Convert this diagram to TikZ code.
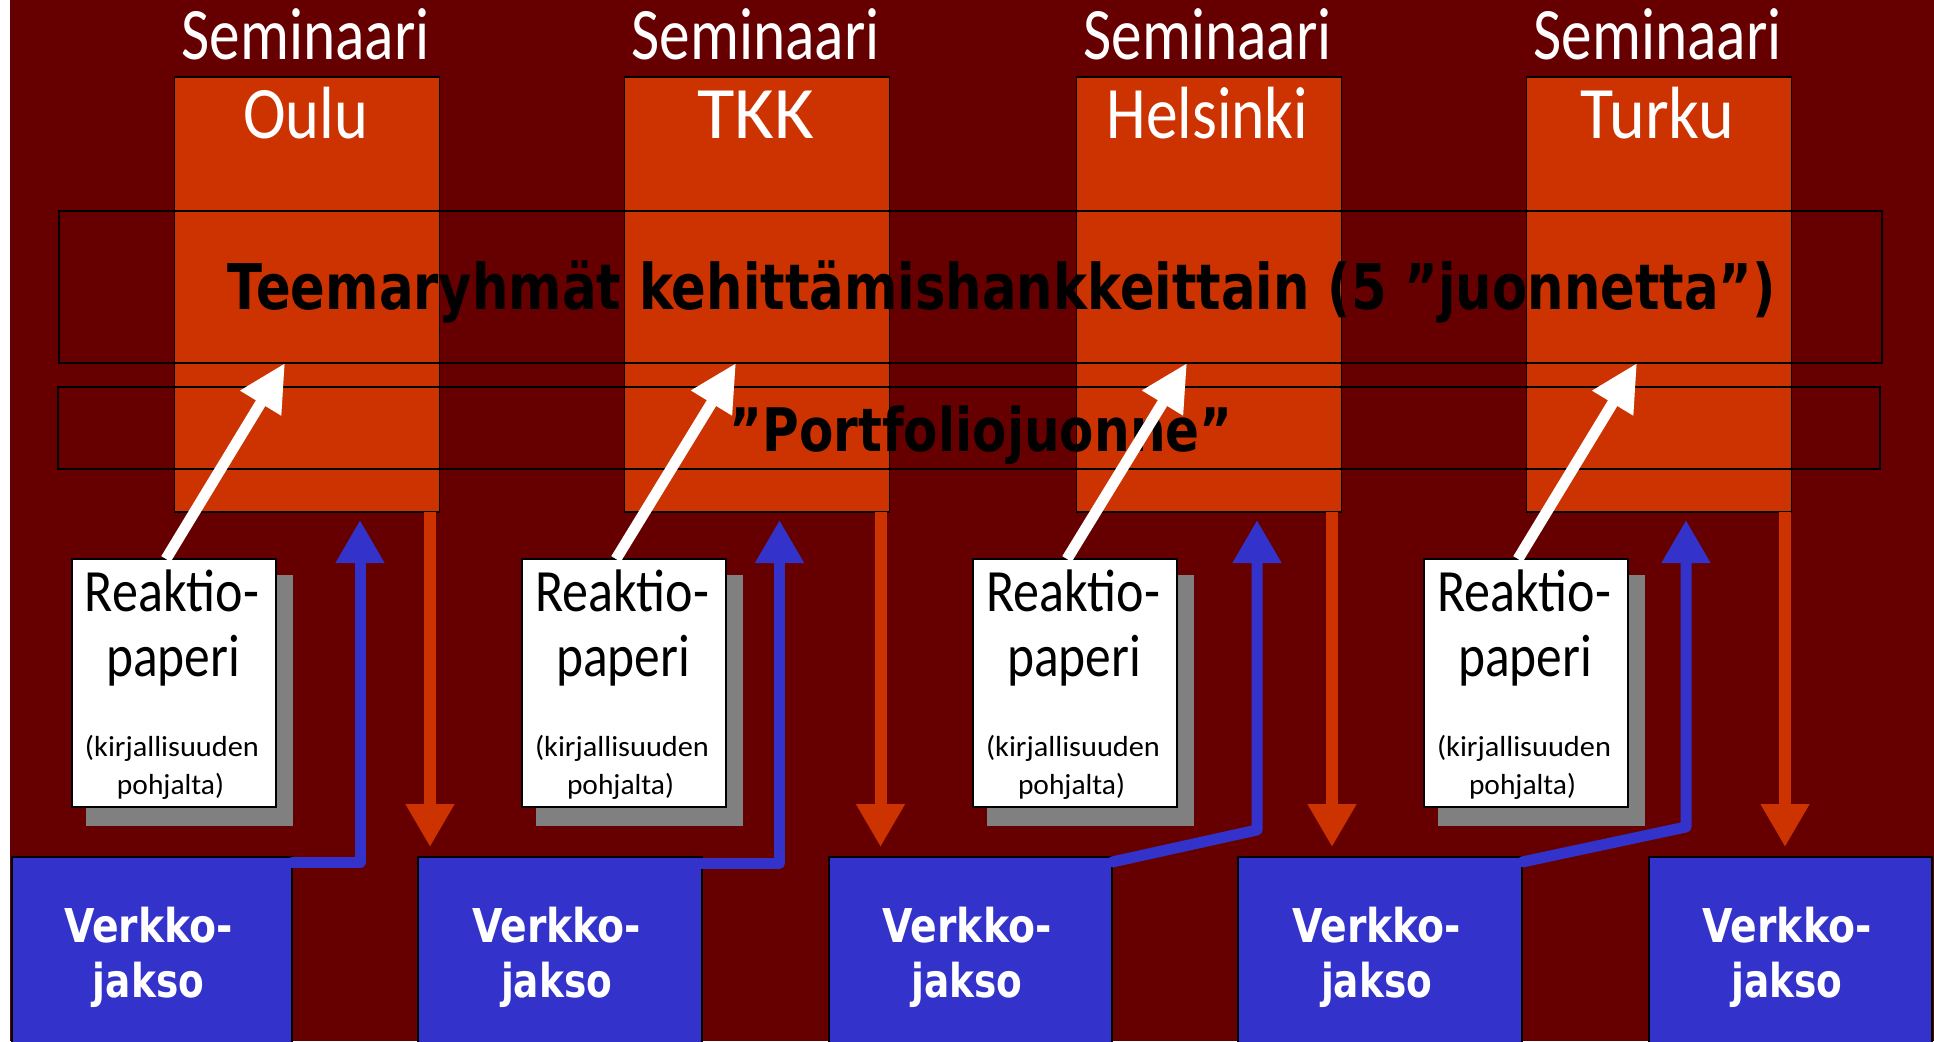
\documentclass[tikz,border=0pt]{standalone}
\usepackage{fontspec}
\usepackage{graphicx}
\usetikzlibrary{arrows.meta,calc}
\newfontfamily\calfont{Carlito}
\newfontfamily\djfont{DejaVu Sans}
\definecolor{bgred}{HTML}{660000}
\definecolor{semorange}{HTML}{CC3300}
\definecolor{vblue}{HTML}{3333CC}
\definecolor{shadowgrey}{HTML}{808080}
\newcommand\fitx[2]{\resizebox{#1}{\height}{#2}}
\begin{document}
\begin{tikzpicture}[x=1pt,y=-1pt,
  sembox/.style={draw=black,line width=1.5pt,fill=semorange,minimum width=265pt,minimum height=435pt,inner sep=0pt,outer sep=0pt},
  bandbox/.style={draw=black,line width=1.5pt,inner sep=0pt,outer sep=0pt},
  rbox/.style={draw=black,line width=2pt,fill=white,minimum width=204pt,minimum height=248pt,inner sep=0pt,outer sep=0pt},
  rshadow/.style={fill=shadowgrey,minimum width=207pt,minimum height=251pt,inner sep=0pt,outer sep=0pt},
  vbox/.style={draw=black,line width=1.5pt,fill=vblue,minimum height=189pt,inner sep=0pt,outer sep=0pt},
  semlabel/.style={text=white,font=\calfont\fontsize{74pt}{74pt}\selectfont,inner sep=0pt,anchor=base},
  bigtext/.style={text=black,font=\djfont\bfseries\fontsize{63pt}{63pt}\selectfont,inner sep=0pt,anchor=base},
  rbig/.style={text=black,font=\calfont\fontsize{60pt}{60pt}\selectfont,inner sep=0pt,anchor=base},
  rsmall/.style={text=black,font=\calfont\fontsize{29pt}{29pt}\selectfont,inner sep=0pt,anchor=base},
  vtext/.style={text=white,font=\djfont\bfseries\fontsize{46.6pt}{46.6pt}\selectfont,inner sep=0pt,anchor=base},
  whitearrow/.style={draw=white,line width=11pt,-{Triangle[width=45pt,length=47pt]}},
  bluecon/.style={draw=vblue,line width=11pt,line cap=round,line join=round,-{Triangle[width=46pt,length=43pt]}},
  redarrow/.style={draw=semorange,line width=12pt,-{Triangle[width=46pt,length=43pt]}}
]
\useasboundingbox (0,0) rectangle (1934,1041);
\fill[white] (0,0) rectangle (1934,1041);
\fill[bgred] (10,0) rectangle (1934,1041);

% seminar boxes
\foreach \i/\cx/\city/\cw in {1/307/Oulu/125, 2/757/TKK/117, 3/1209/Helsinki/202, 4/1659/Turku/154} {
  \node[sembox] (sem\i) at (\cx,294.5) {};
  \node[semlabel] (seml\i) at (\cx-1.5,60) {\fitx{248pt}{Seminaari}};
  \node[semlabel] (city\i) at (\cx-1.5,138) {\fitx{\cw pt}{\city}};
}

% bands
\node[bandbox,minimum width=1823pt,minimum height=152pt] (teem) at (970.5,287) {};
\node[bandbox,minimum width=1822pt,minimum height=82pt] (port) at (969,428) {};
\node[bigtext] (teemtxt) at (1002,309) {\fitx{1548pt}{Teemaryhmät kehittämishankkeittain (5 ”juonnetta”)}};
\node[bigtext,font=\djfont\bfseries\fontsize{60pt}{60pt}\selectfont] (porttxt) at (981,451) {\fitx{503pt}{”Portfoliojuonne”}};

% reaction papers
\foreach \i/\cx/\wtx in {1/174/285, 2/624/736, 3/1075/1187, 4/1526/1637} {
  \node[rshadow] (rs\i) at (\cx+15.5,700.5) {};
  \node[rbox] (rp\i) at (\cx,683) {};
  \node[rbig] (ra\i) at (\cx-2,611) {\fitx{174pt}{Reaktio-}};
  \node[rbig] (rb\i) at (\cx-1,676) {\fitx{134pt}{paperi}};
  \node[rsmall] (rc\i) at (\cx-2,756) {\fitx{174pt}{(kirjallisuuden}};
  \node[rsmall] (rd\i) at (\cx-3.5,794) {\fitx{107pt}{pohjalta)}};
  \coordinate (wt\i) at (\wtx,363);
  \draw[whitearrow] ([xshift=-8pt]rp\i.north) -- (wt\i);
}

% network periods
\foreach \i/\cx/\w in {1/152/280, 2/560/284, 3/970.5/283, 4/1380/284, 5/1790.5/283} {
  \node[vbox,minimum width=\w pt] (vj\i) at (\cx,951.5) {};
  \node[vtext] (va\i) at (\cx-3.5,942) {\fitx{169pt}{Verkko-}};
  \node[vtext] (vb\i) at (\cx-3.5,997) {\fitx{111pt}{jakso}};
}

% blue connectors
\coordinate (bk1) at (360,862);   \coordinate (bt1) at (360,520);
\coordinate (bk2) at (779.5,863); \coordinate (bt2) at (779.5,520);
\coordinate (bk3) at (1257,830);  \coordinate (bt3) at (1257,520);
\coordinate (bk4) at (1686,827);  \coordinate (bt4) at (1686,520);
\draw[bluecon] (vj1.north east |- bk1) -- (bk1) -- (bt1);
\draw[bluecon] (vj2.north east |- bk2) -- (bk2) -- (bt2);
\draw[bluecon] ([yshift=-5pt]vj3.north east) -- (bk3) -- (bt3);
\draw[bluecon] ([yshift=-5pt]vj4.north east) -- (bk4) -- (bt4);

% red arrows
\foreach \i/\rx in {1/430, 2/880.5, 3/1332, 4/1785} {
  \coordinate (rt\i) at (\rx,847);
  \draw[redarrow] (sem\i.south -| rt\i) -- (rt\i);
}
\end{tikzpicture}
\end{document}
